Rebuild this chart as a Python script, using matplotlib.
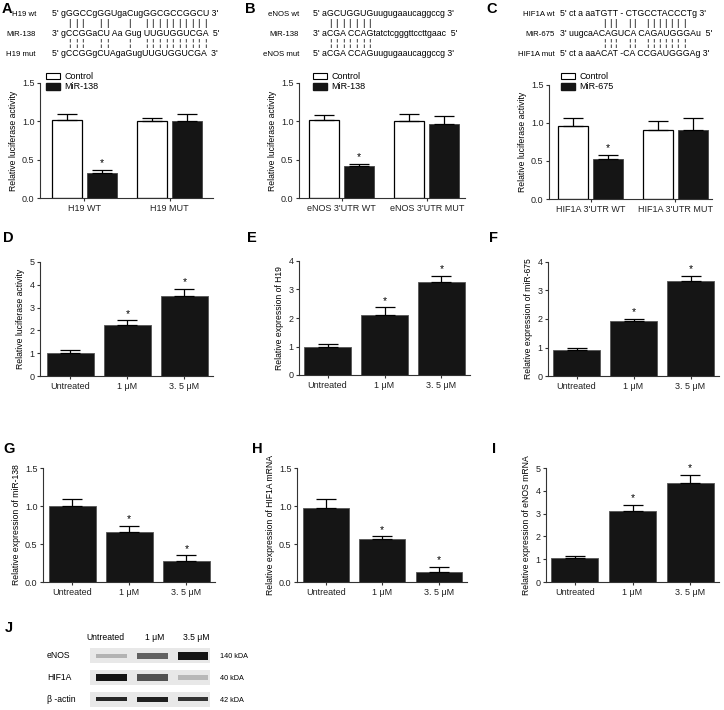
import matplotlib
matplotlib.use("Agg")
import matplotlib.pyplot as plt
from matplotlib.patches import Patch, Rectangle
from matplotlib.font_manager import findfont, FontProperties, fontManager
from matplotlib.ft2font import FT2Font

plt.rcParams["font.family"] = ["Liberation Sans", "DejaVu Sans"]

W, H = 724, 710
DARK = "#151515"

# ---- data -------------------------------------------------------------
# luciferase reporter panels (A-C)
groups_a = ["H19 WT", "H19 MUT"]
ctrl_a, ctrl_a_err = [1.02, 1.01], [0.07, 0.04]
mir_a, mir_a_err = [0.32, 1.01], [0.05, 0.08]

groups_b = ["eNOS 3'UTR WT", "eNOS 3'UTR MUT"]
ctrl_b, ctrl_b_err = [1.02, 1.01], [0.06, 0.08]
mir_b, mir_b_err = [0.42, 0.96], [0.03, 0.11]

groups_c = ["HIF1A 3'UTR WT", "HIF1A 3'UTR MUT"]
ctrl_c, ctrl_c_err = [0.96, 0.91], [0.11, 0.11]
mir_c, mir_c_err = [0.52, 0.91], [0.06, 0.15]

# dose panels (D-I)
doses = ["Untreated", "1 μM", "3. 5 μM"]
d_vals, d_err = [1.00, 2.22, 3.52], [0.12, 0.22, 0.30]
e_vals, e_err = [1.00, 2.10, 3.25], [0.10, 0.27, 0.22]
f_vals, f_err = [0.92, 1.93, 3.35], [0.07, 0.08, 0.16]
g_vals, g_err = [1.00, 0.66, 0.27], [0.09, 0.08, 0.08]
h_vals, h_err = [0.98, 0.56, 0.13], [0.11, 0.04, 0.07]
i_vals, i_err = [1.05, 3.12, 4.35], [0.10, 0.25, 0.35]
dose_stars = [False, True, True]

# western blot (J)
blot_lanes = ["Untreated", "1 μM", "3.5 μM"]
blot_rows = ["eNOS", "HIF1A", "β -actin"]
blot_kda = ["140 kDA", "40 kDA", "42 kDA"]
band_dark = [[0.30, 0.62, 0.92], [0.92, 0.68, 0.28], [0.85, 0.88, 0.80]]
band_thick = [[0.20, 0.28, 0.36], [0.30, 0.28, 0.20], [0.20, 0.22, 0.20]]

# binding sequences
seq_a = [("H19 wt", "5' gGGCCgGGUgaCugGGCGCCGGCU 3'"),
         ("MiR-138", "3' gCCGGaCU Aa Gug UUGUGGUCGA  5'"),
         ("H19 mut", "5' gCCGGgCUAgaGugUUGUGGUCGA  3'")]
pairs_a = [4, 5, 6, 9, 10, 14] + list(range(17, 27))
seq_b = [("eNOS wt", "5' aGCUGGUGuugugaaucaggccg 3'"),
         ("MiR-138", "3' aCGA CCAGtatctcgggttccttgaac  5'"),
         ("eNOS mut", "5' aCGA CCAGuugugaaucaggccg 3'")]
pairs_b = list(range(4, 11))
seq_c = [("HIF1A wt", "5' ct a aaTGTT - CTGCCTACCCTg 3'"),
         ("MiR-675", "3' uugcaACAGUCA CAGAUGGGAu  5'"),
         ("HIF1A mut", "5' ct a aaACAT -CA CCGAUGGGAg 3'")]
pairs_c = [11, 12, 13, 17, 18] + list(range(20, 27))

fig = plt.figure(figsize=(W / 100, H / 100), dpi=100)


def px_axes(x0, y0, x1, y1):
    return fig.add_axes([x0 / W, 1 - y1 / H, (x1 - x0) / W, (y1 - y0) / H])


def ftext(x, y, s, **kw):
    fig.text(x / W, 1 - y / H, s, **kw)


def style_axes(ax, ylim, yticks, fmt, ylabel):
    ax.set_ylim(*ylim)
    ax.set_yticks(yticks)
    ax.set_yticklabels([fmt.format(t) for t in yticks])
    for s in ("top", "right"):
        ax.spines[s].set_visible(False)
    for s in ("left", "bottom"):
        ax.spines[s].set_linewidth(0.8)
        ax.spines[s].set_color("#333333")
    ax.tick_params(direction="out", length=2.5, width=0.8, labelsize=6.5,
                   pad=1.5, colors="#333333", labelcolor="#222222")
    ax.set_ylabel(ylabel, fontsize=6.2, labelpad=3)


def err_up(ax, x, vals, errs, color="black"):
    ax.errorbar(x, vals, yerr=[[0] * len(vals), errs], fmt="none",
                ecolor=color, elinewidth=0.9, capsize=7, capthick=0.9, zorder=3)


def star(ax, x, top, span):
    ax.text(x, top + span * 0.015, "*", ha="center", va="bottom", fontsize=7.5)


def grouped_panel(rect, xlim, groups, ctrl, ctrl_err, mir, mir_err, ylabel):
    ax = px_axes(*rect)
    off, w = 0.206, 0.353
    xs = list(range(len(groups)))
    ax.bar([x - off for x in xs], ctrl, w, color="white", edgecolor="black",
           linewidth=0.9, zorder=2)
    ax.bar([x + off for x in xs], mir, w, color=DARK, edgecolor="#444444",
           linewidth=0.6, zorder=2)
    err_up(ax, [x - off for x in xs], ctrl, ctrl_err)
    err_up(ax, [x + off for x in xs], mir, mir_err)
    star(ax, off, mir[0] + mir_err[0], 1.5)
    ax.set_xlim(*xlim)
    ax.set_xticks(xs)
    ax.set_xticklabels(groups)
    style_axes(ax, (0, 1.5), [0, 0.5, 1.0, 1.5], "{:.1f}", ylabel)
    return ax


def dose_panel(rect, xlim, vals, errs, ylim, yticks, fmt, ylabel):
    ax = px_axes(*rect)
    xs = list(range(len(doses)))
    ax.bar(xs, vals, 0.82, color=DARK, edgecolor="#555555", linewidth=0.6, zorder=2)
    err_up(ax, xs, vals, errs)
    for x, v, e, s in zip(xs, vals, errs, dose_stars):
        if s:
            star(ax, x, v + e, ylim[1])
    ax.set_xlim(*xlim)
    ax.set_xticks(xs)
    ax.set_xticklabels(doses)
    style_axes(ax, ylim, yticks, fmt, ylabel)
    return ax


# ---- sequences --------------------------------------------------------
SEQ_FS = 6.3
installed = {f.name for f in fontManager.ttflist}
if "Liberation Sans Narrow" in installed:
    NAME_FAMILY, NAME_FS = "Liberation Sans Narrow", 6.5
else:
    NAME_FAMILY, NAME_FS = "Liberation Sans", 5.6
fp = FontProperties(family="Liberation Sans", size=SEQ_FS)
ft = FT2Font(findfont(fp))
ft.set_size(SEQ_FS, 100)


def char_centers(s):
    xs, x = [], 0.0
    for ch in s:
        adv = ft.load_char(ord(ch)).linearHoriAdvance / 65536
        xs.append(x + adv / 2)
        x += adv
    return xs


def draw_seq(rows, pairs, name_right, seq_x, y0):
    ys = [y0, y0 + 20, y0 + 40]
    for (name, seq), y in zip(rows, ys):
        ftext(name_right, y, name, ha="right", va="center", fontsize=NAME_FS,
              family=NAME_FAMILY)
        ftext(seq_x, y, seq, ha="left", va="center", fontsize=SEQ_FS)
    cents = char_centers(rows[0][1])
    for i in pairs:
        ftext(seq_x + cents[i], y0 + 10, "|", ha="center", va="center", fontsize=SEQ_FS + 0.5)
        ftext(seq_x + cents[i], y0 + 30, "¦", ha="center", va="center", fontsize=SEQ_FS + 0.5)


draw_seq(seq_a, pairs_a, 36, 52, 14)
draw_seq(seq_b, pairs_b, 299, 313, 14)
draw_seq(seq_c, pairs_c, 555, 560, 14)

# ---- panels A-C -------------------------------------------------------
lum = "Relative luciferase activity"
ax_a = grouped_panel((40, 83, 213, 198), (-0.52, 1.51), groups_a,
                     ctrl_a, ctrl_a_err, mir_a, mir_a_err, lum)
ax_b = grouped_panel((299, 83, 465, 198), (-0.5, 1.45), groups_b,
                     ctrl_b, ctrl_b_err, mir_b, mir_b_err, lum)
ax_c = grouped_panel((549, 85, 712, 199), (-0.49, 1.43), groups_c,
                     ctrl_c, ctrl_c_err, mir_c, mir_c_err, lum)

for ax, x0, mir_name in ((ax_a, 46, "MiR-138"), (ax_b, 313, "MiR-138"),
                         (ax_c, 561, "MiR-675")):
    handles = [Patch(facecolor="white", edgecolor="black", linewidth=0.8),
               Patch(facecolor=DARK, edgecolor=DARK)]
    ax.legend(handles, ["Control", mir_name], loc="upper left",
              bbox_to_anchor=(x0 / W, 1 - 72 / H), bbox_transform=fig.transFigure,
              frameon=False, fontsize=6.5, handlelength=1.5, handleheight=0.75,
              handletextpad=0.5, labelspacing=0.15, borderpad=0, borderaxespad=0)

# ---- panels D-I -------------------------------------------------------
dose_panel((40, 262, 213, 376), (-0.535, 2.5), d_vals, d_err, (0, 5),
           [0, 1, 2, 3, 4, 5], "{:d}", lum)
dose_panel((299, 261, 470, 375), (-0.5, 2.5), e_vals, e_err, (0, 4),
           [0, 1, 2, 3, 4], "{:d}", "Relative expression of H19")
dose_panel((548, 262, 719, 376), (-0.5, 2.5), f_vals, f_err, (0, 4),
           [0, 1, 2, 3, 4], "{:d}", "Relative expression of miR-675")
dose_panel((43, 468, 215, 582), (-0.51, 2.5), g_vals, g_err, (0, 1.5),
           [0, 0.5, 1.0, 1.5], "{:.1f}", "Relative expression of miR-138")
dose_panel((297, 468, 467, 582), (-0.51, 2.5), h_vals, h_err, (0, 1.5),
           [0, 0.5, 1.0, 1.5], "{:.1f}", "Relative expression of HIF1A mRNA")
dose_panel((546, 468, 719, 582), (-0.5, 2.5), i_vals, i_err, (0, 5),
           [0, 1, 2, 3, 4, 5], "{:d}", "Relative expression of eNOS mRNA")

# ---- panel J: western blot -------------------------------------------
axj = px_axes(90, 645, 210, 710)
axj.set_xlim(-0.54, 2.42)
axj.set_ylim(2.5, -0.5)
axj.axis("off")
for r, row in enumerate(blot_rows):
    axj.add_patch(Rectangle((-0.54, r - 0.34), 2.96, 0.68, facecolor="#e8e8e8",
                            edgecolor="none", zorder=1))
    for lane in range(len(blot_lanes)):
        g = 1 - band_dark[r][lane]
        th = band_thick[r][lane]
        axj.bar(lane, th, 0.76, bottom=r - th / 2, color=(g, g, g), zorder=2)
    ftext(47, 656 + 22 * r, row, ha="left", va="center", fontsize=6.2)
    ftext(220, 656 + 22 * r, blot_kda[r], ha="left", va="center", fontsize=5.2)
for lane, name in zip([105, 155, 196], blot_lanes):
    ftext(lane, 638, name, ha="center", va="center", fontsize=6.2)

# ---- panel letters ----------------------------------------------------
for letter, x, y in (("A", 2, 9), ("B", 245, 9), ("C", 486, 9),
                     ("D", 3, 238), ("E", 247, 238), ("F", 489, 238),
                     ("G", 3, 449), ("H", 252, 449), ("I", 492, 449),
                     ("J", 5, 628)):
    ftext(x, y, letter, ha="left", va="center", fontsize=10.5, fontweight="bold")

fig.savefig("out.png", dpi=100)
